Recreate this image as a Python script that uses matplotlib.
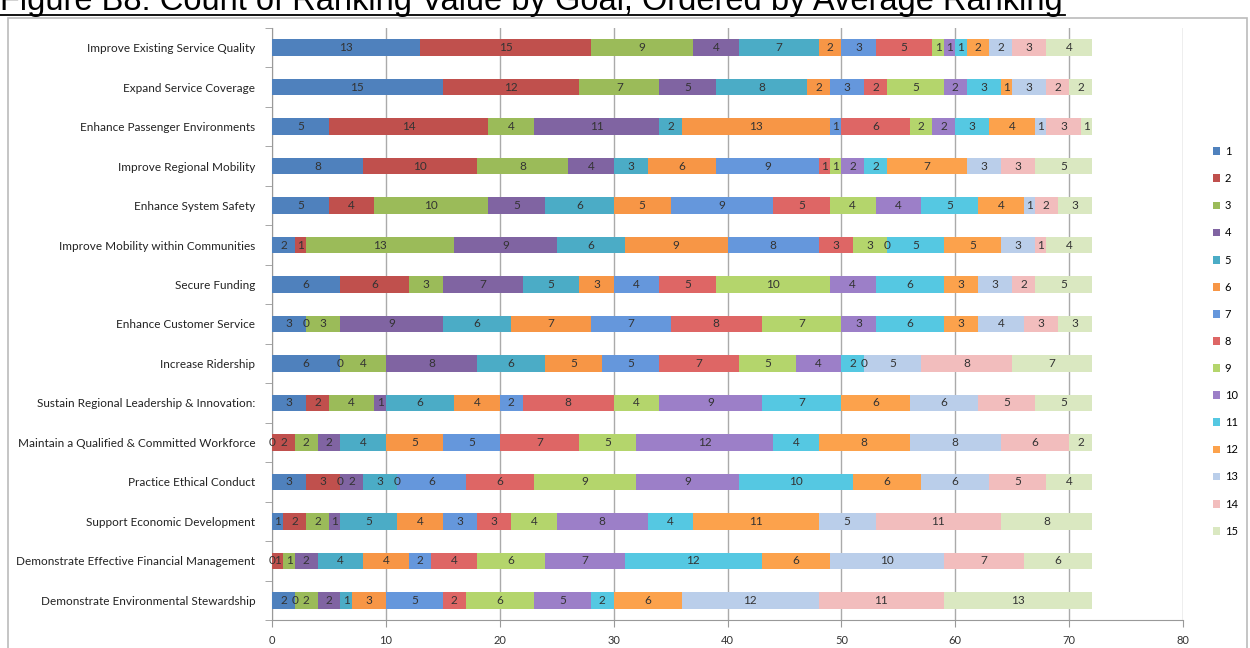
import numpy as np
import matplotlib
matplotlib.use("Agg")
from matplotlib import pyplot as plt
from matplotlib.patches import Rectangle
from matplotlib.lines import Line2D

goals = ["Improve Existing Service Quality",
         "Expand Service Coverage",
         "Enhance Passenger Environments",
         "Improve Regional Mobility",
         "Enhance System Safety",
         "Improve Mobility within Communities",
         "Secure Funding",
         "Enhance Customer Service",
         "Increase Ridership",
         "Sustain Regional Leadership & Innovation:",
         "Maintain a Qualified & Committed Workforce",
         "Practice Ethical Conduct",
         "Support Economic Development",
         "Demonstrate Effective Financial Management",
         "Demonstrate Environmental Stewardship"]

# counts for ranking value 1..15, one list per goal (same order as goals)
service_quality = [13, 15, 9, 4, 7, 2, 3, 5, 1, 1, 1, 2, 2, 3, 4]
service_coverage = [15, 12, 7, 5, 8, 2, 3, 2, 5, 2, 3, 1, 3, 2, 2]
passenger_env = [5, 14, 4, 11, 2, 13, 1, 6, 2, 2, 3, 4, 1, 3, 1]
regional_mobility = [8, 10, 8, 4, 3, 6, 9, 1, 1, 2, 2, 7, 3, 3, 5]
system_safety = [5, 4, 10, 5, 6, 5, 9, 5, 4, 4, 5, 4, 1, 2, 3]
community_mobility = [2, 1, 13, 9, 6, 9, 8, 3, 3, 0, 5, 5, 3, 1, 4]
secure_funding = [6, 6, 3, 7, 5, 3, 4, 5, 10, 4, 6, 3, 3, 2, 5]
customer_service = [3, 0, 3, 9, 6, 7, 7, 8, 7, 3, 6, 3, 4, 3, 3]
ridership = [6, 0, 4, 8, 6, 5, 5, 7, 5, 4, 2, 0, 5, 8, 7]
leadership = [3, 2, 4, 1, 6, 4, 2, 8, 4, 9, 7, 6, 6, 5, 5]
workforce = [0, 2, 2, 2, 4, 5, 5, 7, 5, 12, 4, 8, 8, 6, 2]
ethical = [3, 3, 0, 2, 3, 0, 6, 6, 9, 9, 10, 6, 6, 5, 4]
economic = [1, 2, 2, 1, 5, 4, 3, 3, 4, 8, 4, 11, 5, 11, 8]
financial = [0, 1, 1, 2, 4, 4, 2, 4, 6, 7, 12, 6, 10, 7, 6]
environmental = [2, 0, 2, 2, 1, 3, 5, 2, 6, 5, 2, 6, 12, 11, 13]

rank_labels = [str(i) for i in range(1, 16)]

colors = ["#4F81BD", "#C0504D", "#9BBB59", "#8064A2", "#4BACC6", "#F79646",
          "#6597DC", "#DE6665", "#B4D56C", "#9C7FC8", "#55C8E2", "#FCA24C",
          "#BACEEA", "#F2BDBD", "#DAE8C1"]

counts = np.array([service_quality, service_coverage, passenger_env, regional_mobility,
                   system_safety, community_mobility, secure_funding, customer_service,
                   ridership, leadership, workforce, ethical, economic, financial,
                   environmental])

fig = plt.figure(figsize=(12.5, 6.48), dpi=100)
ax = fig.add_axes([0.2176, 0.043, 0.7288, 0.914])

y = np.arange(len(goals))
left = np.zeros(len(goals))
for k in range(counts.shape[1]):
    bars = ax.barh(y, counts[:, k], left=left, height=0.42, color=colors[k],
                   label=rank_labels[k], zorder=3)
    txts = ax.bar_label(bars, labels=[str(v) for v in counts[:, k]], label_type="center",
                        fontsize=8.5, color="#333333", family="Lato")
    for t in txts:
        t.set_zorder(6)
    left += counts[:, k]

ax.set_xlim(0, 80)
ax.set_ylim(len(goals) - 0.5, -0.5)
ax.set_xticks(range(0, 81, 10))
ax.set_yticks(y)
ax.set_yticklabels(goals, fontsize=8.5, family="Lato", color="#222222")
ax.set_yticks(np.arange(-0.5, len(goals), 1), minor=True)
ax.tick_params(axis="y", which="major", length=0, pad=12)
ax.tick_params(axis="y", which="minor", length=5, color="#999999", direction="out")
ax.tick_params(axis="x", length=5, color="#999999", labelsize=8, labelcolor="#333333",
               pad=6)
for lbl in ax.get_xticklabels():
    lbl.set_family("Lato")
ax.grid(axis="x", color="#AAAAAA", linewidth=1, zorder=0)
for s in ["top", "right"]:
    ax.spines[s].set_visible(False)
for s in ["left", "bottom"]:
    ax.spines[s].set_color("#999999")

leg = fig.legend(loc="upper left", bbox_to_anchor=(0.962, 0.79), frameon=False,
                 handlelength=0.7, handleheight=0.7, handletextpad=0.4,
                 labelspacing=1.45, prop={"family": "Lato", "size": 8})

# chart frame
fig.patches.append(Rectangle((8 / 1250, -0.01), 1239 / 1250, 1 - 18 / 648 + 0.01,
                             transform=fig.transFigure, fill=False,
                             edgecolor="#BBBBBB", linewidth=1.2))

fig.text(0.0, 1 - 10 / 648, "Figure B8: Count of Ranking Value by Goal, Ordered by Average Ranking",
         fontsize=23.5, family="Liberation Sans", va="baseline", ha="left")
fig.add_artist(Line2D([0, 1065 / 1250], [1 - 15 / 648] * 2, color="black",
                      linewidth=1.3, transform=fig.transFigure))

fig.savefig("out.png", dpi=100)
